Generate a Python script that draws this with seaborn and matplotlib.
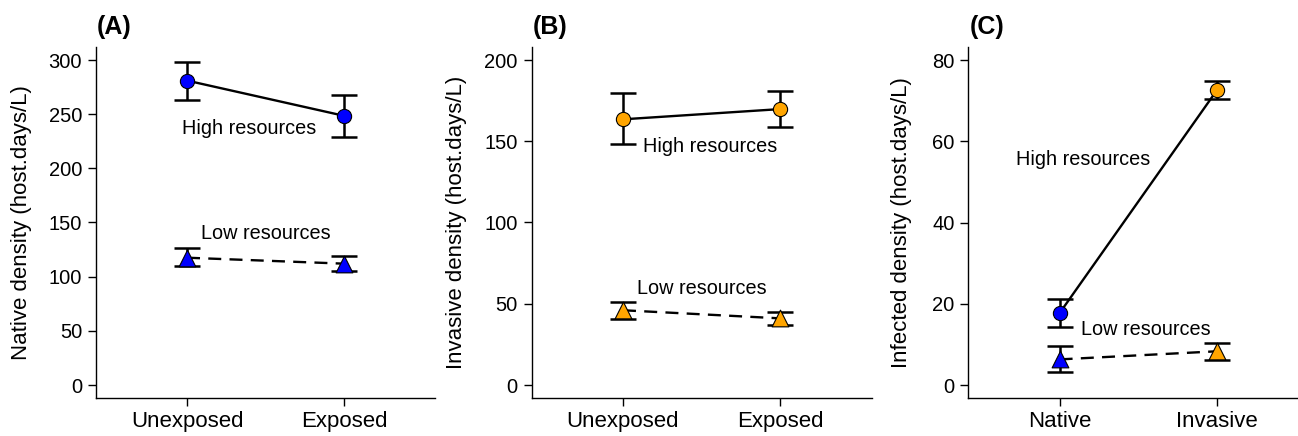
import numpy as np
import pandas as pd
import matplotlib
matplotlib.use("Agg")
import matplotlib.pyplot as plt
import seaborn as sns

sns.set_style("ticks")
plt.rcParams['font.family'] = ['Liberation Sans', 'DejaVu Sans']
plt.rcParams.update({"text.color": "black", "axes.labelcolor": "black",
                     "xtick.color": "black", "ytick.color": "black",
                     "axes.edgecolor": "black"})

# ---- data ----
exposure = ["Unexposed", "Exposed"]
host = ["Native", "Invasive"]

native_high_mean = [281, 248.5]
native_high_lo = [263.5, 228.5]
native_high_hi = [298.5, 268]
native_low_mean = [117.5, 112]
native_low_lo = [109.5, 105.5]
native_low_hi = [126, 119]

invasive_high_mean = [163.5, 169.8]
invasive_high_lo = [148.2, 158.8]
invasive_high_hi = [179.6, 181]
invasive_low_mean = [46, 41]
invasive_low_lo = [40.8, 37]
invasive_low_hi = [51.2, 44.7]

infected_high_mean = [17.7, 72.6]
infected_high_lo = [14.4, 70.3]
infected_high_hi = [21.2, 74.8]
infected_low_mean = [6.3, 8.3]
infected_low_lo = [3.2, 6.2]
infected_low_hi = [9.5, 10.4]

BLUE = "#0000FF"
ORANGE = "#FFA500"

W, H = 1298, 436
fig = plt.figure(figsize=(W / 100, H / 100), dpi=100)

def px_axes(left, right, top=47, bottom=398):
    return fig.add_axes([left / W, (H - bottom) / H, (right - left) / W, (bottom - top) / H])

axA = px_axes(96, 435)
axB = px_axes(531.7, 871.7)
axC = px_axes(968.3, 1308.3)


def panel(ax, cats, series, ylim, yticks, ylabel, colors_by_cat, texts, letter, letter_x):
    for mean, lo, hi, marker, ls in series:
        df = pd.DataFrame({"cat": cats, "val": mean})
        sns.lineplot(data=df, x="cat", y="val", ax=ax, color="black", lw=1.7,
                     sort=False, zorder=2)
        if ls != "-":
            ax.lines[-1].set_dashes([5.5, 3.5])
        yerr = np.vstack([np.array(mean) - np.array(lo), np.array(hi) - np.array(mean)])
        ax.errorbar(cats, mean, yerr=yerr, fmt="none", ecolor="black", elinewidth=1.8,
                    capsize=9.5, capthick=1.8, zorder=3)
        for i, c in enumerate(cats):
            ax.scatter([c], [mean[i]], marker=marker, s=105 if marker == "o" else 145,
                       color=colors_by_cat[i], edgecolor="black", linewidth=0.8, zorder=4)
    ax.set_xlim(-0.58, 1.58)
    ax.set_ylim(*ylim)
    ax.set_yticks(yticks)
    ax.set_xlabel("")
    ax.set_ylabel(ylabel, fontsize=16)
    ax.yaxis.set_label_coords(-0.19 if letter != "(C)" else -0.167, 0.5)
    ax.tick_params(axis="y", labelsize=14.5, length=6, width=1, pad=4, color="black")
    ax.tick_params(axis="x", labelsize=16, length=6, width=1, pad=3, color="black")
    for s in ["top", "right"]:
        ax.spines[s].set_visible(False)
    ax.spines["left"].set_linewidth(1)
    ax.spines["bottom"].set_linewidth(1)
    for (tx, ty, s) in texts:
        ax.text(tx, ty, s, fontsize=14.3, ha="center", va="center")
    fig.text(letter_x / W, (H - 27) / H, letter, fontsize=18, fontweight="bold",
             ha="center", va="center")


panel(axA, exposure,
      [(native_high_mean, native_high_lo, native_high_hi, "o", "-"),
       (native_low_mean, native_low_lo, native_low_hi, "^", "--")],
      (-12, 312), [0, 50, 100, 150, 200, 250, 300], "Native density (host.days/L)",
      [BLUE, BLUE],
      [(0.395, 237.2, "High resources"), (0.5, 140.3, "Low resources")], "(A)", 114)

panel(axB, exposure,
      [(invasive_high_mean, invasive_high_lo, invasive_high_hi, "o", "-"),
       (invasive_low_mean, invasive_low_lo, invasive_low_hi, "^", "--")],
      (-8, 208), [0, 50, 100, 150, 200], "Invasive density (host.days/L)",
      [ORANGE, ORANGE],
      [(0.551, 146.7, "High resources"), (0.498, 59.5, "Low resources")], "(B)", 550)

panel(axC, host,
      [(infected_high_mean, infected_high_lo, infected_high_hi, "o", "-"),
       (infected_low_mean, infected_low_lo, infected_low_hi, "^", "--")],
      (-3.2, 83.2), [0, 20, 40, 60, 80], "Infected density (host.days/L)",
      [BLUE, ORANGE],
      [(0.15, 55.6, "High resources"), (0.548, 13.7, "Low resources")], "(C)", 986.7)

fig.savefig("out.png", dpi=100)
